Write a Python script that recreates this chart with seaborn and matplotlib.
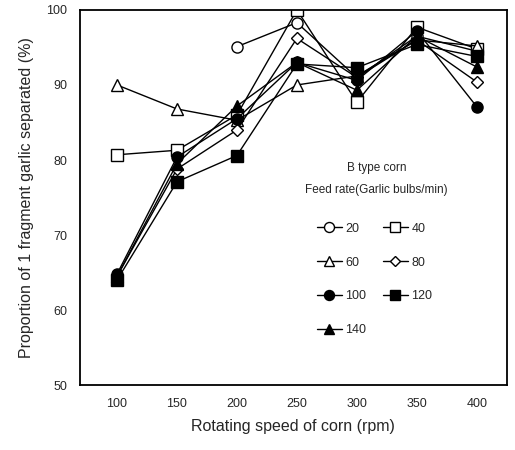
import numpy as np
import matplotlib
matplotlib.use("Agg")
import matplotlib.pyplot as plt
import seaborn as sns

# data
rpm = [100, 150, 200, 250, 300, 350, 400]
feed_20 = [np.nan, np.nan, 95.1, 98.3, 91.0, 96.5, 94.5]
feed_40 = [80.7, 81.3, 86.0, 100.0, 87.7, 97.7, 94.8]
feed_60 = [90.0, 86.8, 85.3, 90.0, 91.2, 96.0, 95.2]
feed_80 = [64.5, 78.8, 84.0, 96.2, 91.0, 96.0, 90.4]
feed_100 = [64.8, 80.4, 85.5, 93.0, 90.6, 97.2, 87.1]
feed_120 = [64.0, 77.1, 80.6, 92.8, 92.3, 95.4, 93.8]
feed_140 = [64.5, 79.5, 87.2, 93.0, 89.3, 96.5, 92.4]

series = {
    "20": (feed_20, "o", "white"),
    "40": (feed_40, "s", "white"),
    "60": (feed_60, "^", "white"),
    "80": (feed_80, "D", "white"),
    "100": (feed_100, "o", "black"),
    "120": (feed_120, "s", "black"),
    "140": (feed_140, "^", "black"),
}

sns.set_style("white")
plt.rcParams["font.family"] = ["Liberation Sans", "DejaVu Sans"]

fig = plt.figure(figsize=(5.15, 4.5), dpi=100)
ax = fig.add_axes([0.155, 0.144, 0.829, 0.834])

for name, (vals, mk, fc) in series.items():
    ms = 6 if mk == "D" else 8
    sns.lineplot(x=rpm, y=vals, ax=ax, color="black", lw=1.0,
                 marker=mk, markersize=ms, markerfacecolor=fc,
                 markeredgecolor="black", markeredgewidth=1.0, label=name)

ax.set_xlim(69, 425)
ax.set_ylim(50, 100)
ax.set_xticks(rpm)
ax.set_yticks([50, 60, 70, 80, 90, 100])
ax.tick_params(axis="both", length=0, labelsize=9, pad=9)
ax.set_xlabel("Rotating speed of corn (rpm)", fontsize=11.5, labelpad=7)
ax.set_ylabel("Proportion of 1 fragment garlic separated (%)", fontsize=11.5, labelpad=9)
for sp in ax.spines.values():
    sp.set_color("black")
    sp.set_linewidth(1.3)

# legend heading
ax.text(0.695, 0.579, "B type corn", transform=ax.transAxes,
        ha="center", va="center", fontsize=8.5)
ax.text(0.695, 0.52, "Feed rate(Garlic bulbs/min)", transform=ax.transAxes,
        ha="center", va="center", fontsize=8.5)

handles, labels = ax.get_legend_handles_labels()
order = [0, 2, 4, 6, 1, 3, 5]
ax.legend([handles[i] for i in order], [labels[i] for i in order],
          ncol=2, frameon=False, loc="upper left",
          bbox_to_anchor=(0.555, 0.433), fontsize=9,
          borderpad=0, borderaxespad=0, markerscale=0.9,
          handlelength=2.0, handletextpad=0.3,
          columnspacing=1.3, labelspacing=1.75)

fig.savefig("out.png", dpi=100)
